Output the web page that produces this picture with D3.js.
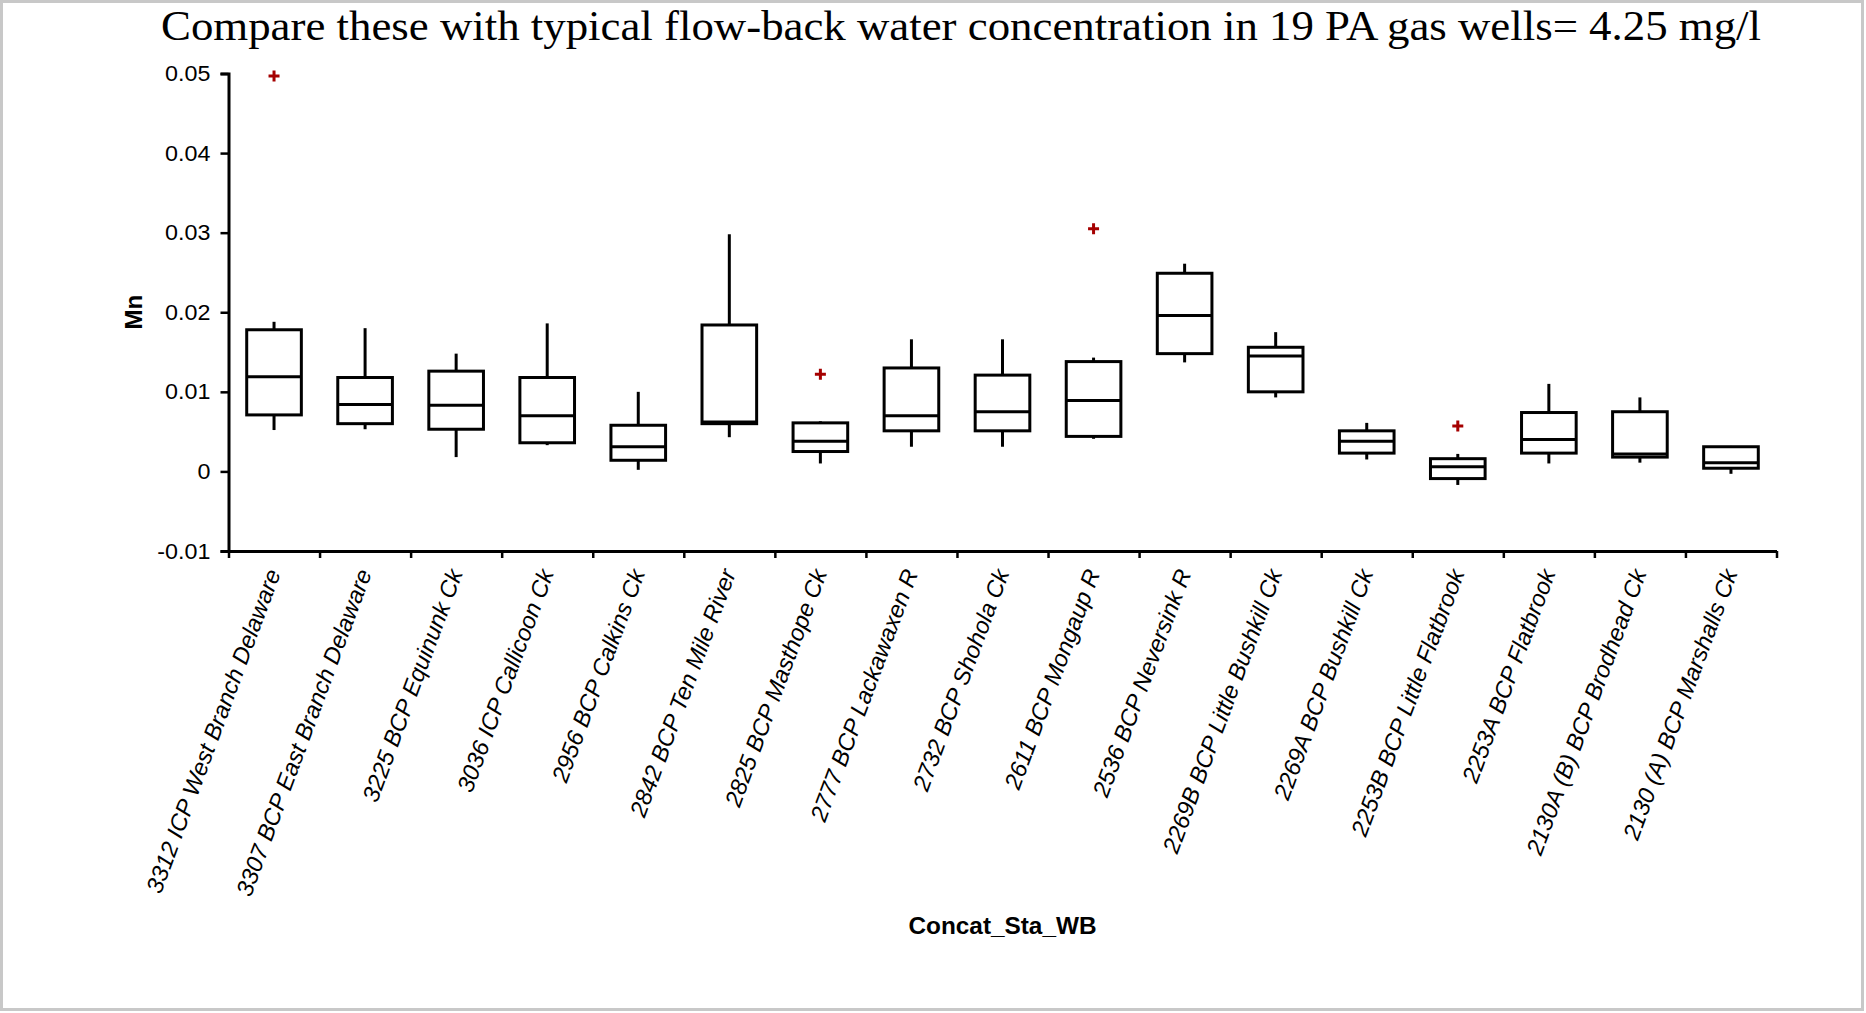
<!DOCTYPE html>
<html>
<head>
<meta charset="utf-8">
<script src="https://cdn.jsdelivr.net/npm/d3@7"></script>
<style>
  body { margin: 0; background: #fff; }
  svg { display: block; }
</style>
</head>
<body>
<script>
// station names (x categories)
var stations = [
  "3312 ICP West Branch Delaware", "3307 BCP East Branch Delaware", "3225 BCP Equinunk Ck",
  "3036 ICP Callicoon Ck", "2956 BCP Calkins Ck", "2842 BCP Ten Mile River",
  "2825 BCP Masthope Ck", "2777 BCP Lackawaxen R", "2732 BCP Shohola Ck",
  "2611 BCP Mongaup R", "2536 BCP Neversink R", "2269B BCP Little Bushkill Ck",
  "2269A BCP Bushkill Ck", "2253B BCP Little Flatbrook", "2253A BCP Flatbrook",
  "2130A (B) BCP Brodhead Ck", "2130 (A) BCP Marshalls Ck"
];

// box statistics, Mn
var whiskerLow  = [0.0052, 0.0053, 0.0018, 0.0033, 0.0002, 0.0043, 0.0010, 0.0031, 0.0031, 0.0041, 0.0137, 0.0093, 0.0015, -0.0017, 0.0010, 0.0011, -0.0003];
var q1          = [0.0071, 0.0060, 0.0053, 0.0036, 0.0014, 0.0060, 0.0025, 0.0051, 0.0051, 0.0044, 0.0148, 0.0100, 0.0023, -0.0009, 0.0023, 0.0018, 0.0004];
var median      = [0.0119, 0.0084, 0.0083, 0.0070, 0.0031, 0.0062, 0.0038, 0.0070, 0.0075, 0.0089, 0.0196, 0.0145, 0.0038, 0.0006, 0.0040, 0.0022, 0.0011];
var q3          = [0.0178, 0.0118, 0.0126, 0.0118, 0.0058, 0.0184, 0.0061, 0.0130, 0.0121, 0.0138, 0.0249, 0.0156, 0.0051, 0.0016, 0.0074, 0.0075, 0.0031];
var whiskerHigh = [0.0188, 0.0180, 0.0148, 0.0186, 0.0100, 0.0298, 0.0063, 0.0166, 0.0166, 0.0143, 0.0261, 0.0175, 0.0061, 0.0022, 0.0110, 0.0093, 0.0032];

// outliers
var outlierStation = [0, 6, 9, 13];
var outlierValue   = [0.0497, 0.0122, 0.0305, 0.0057];

var yTicks = [-0.01, 0, 0.01, 0.02, 0.03, 0.04, 0.05];

var titleText = "Compare these with typical flow-back water concentration in 19 PA gas wells= 4.25 mg/l";

var W = 1866, H = 1013;
var margin = { top: 73.5, left: 228.5, right: 89.5, bottom: 462 };
var width = W - margin.left - margin.right,
    height = H - margin.top - margin.bottom;

var svg = d3.select("body").append("svg")
  .attr("width", W)
  .attr("height", H);

svg.append("rect")
  .attr("x", 1.5).attr("y", 1.5)
  .attr("width", W - 5).attr("height", H - 5)
  .attr("fill", "#fff")
  .attr("stroke", "#c8c8c8")
  .attr("stroke-width", 3);

svg.append("text")
  .attr("x", 161)
  .attr("y", 40)
  .attr("textLength", 1600)
  .attr("lengthAdjust", "spacingAndGlyphs")
  .style("font-family", "'Liberation Serif', 'DejaVu Serif', serif")
  .style("font-size", "43px")
  .style("fill", "#000")
  .text(titleText);

var g = svg.append("g")
  .attr("transform", "translate(" + margin.left + "," + margin.top + ")");

var x = d3.scaleBand().domain(stations).range([0, width]).paddingInner(0).paddingOuter(0);
var xEdge = d3.scaleLinear().domain([0, stations.length]).range([0, width]);
var y = d3.scaleLinear().domain([-0.01, 0.05]).range([height, 0]);

// y axis
var yAxis = g.append("g")
  .call(d3.axisLeft(y).tickValues(yTicks).tickSize(8).tickPadding(9)
    .tickFormat(function (d) { return String(d); }));
yAxis.select(".domain").attr("stroke-width", 3);
yAxis.selectAll(".tick line").attr("stroke-width", 2.5);
yAxis.selectAll(".tick text")
  .style("font-family", "'Liberation Sans', Arial, sans-serif")
  .style("font-size", "22px")
  .attr("transform", "scale(1.06,1)");

// x axis (ticks on band edges)
var xAxis = g.append("g")
  .attr("transform", "translate(0," + height + ")")
  .call(d3.axisBottom(xEdge).tickValues(d3.range(stations.length + 1)).tickSize(7)
    .tickSizeOuter(0).tickFormat(""));
xAxis.select(".domain").attr("stroke-width", 3);
xAxis.selectAll(".tick line").attr("stroke-width", 2.5);

// category labels
g.selectAll(".xlab")
  .data(stations)
  .enter().append("text")
  .attr("class", "xlab")
  .attr("text-anchor", "end")
  .attr("transform", function (d) {
    return "translate(" + (x(d) + x.bandwidth() / 2 + 7) + "," + (height + 22) + ") rotate(-69.5)";
  })
  .style("font-family", "'Liberation Sans', Arial, sans-serif")
  .style("font-style", "italic")
  .style("font-size", "23.5px")
  .text(function (d) { return d; });

// axis titles
svg.append("text")
  .attr("text-anchor", "middle")
  .attr("transform", "translate(142," + (margin.top + height / 2) + ") rotate(-90)")
  .style("font-family", "'Liberation Sans', Arial, sans-serif")
  .style("font-weight", "bold")
  .style("font-size", "24px")
  .text("Mn");

svg.append("text")
  .attr("text-anchor", "middle")
  .attr("x", margin.left + width / 2)
  .attr("y", 934)
  .attr("textLength", 188)
  .attr("lengthAdjust", "spacingAndGlyphs")
  .style("font-family", "'Liberation Sans', Arial, sans-serif")
  .style("font-weight", "bold")
  .style("font-size", "24px")
  .text("Concat_Sta_WB");

// boxes
var boxW = x.bandwidth() * 0.6;
var boxes = g.selectAll(".box")
  .data(stations)
  .enter().append("g")
  .attr("class", "box")
  .attr("transform", function (d) { return "translate(" + (x(d) + x.bandwidth() / 2) + ",0)"; });

boxes.append("line")
  .attr("x1", 0).attr("x2", 0)
  .attr("y1", function (d, i) { return y(whiskerHigh[i]); })
  .attr("y2", function (d, i) { return y(q3[i]); })
  .attr("stroke", "#000").attr("stroke-width", 3);

boxes.append("line")
  .attr("x1", 0).attr("x2", 0)
  .attr("y1", function (d, i) { return y(q1[i]); })
  .attr("y2", function (d, i) { return y(whiskerLow[i]); })
  .attr("stroke", "#000").attr("stroke-width", 3);

boxes.append("rect")
  .attr("x", -boxW / 2)
  .attr("width", boxW)
  .attr("y", function (d, i) { return y(q3[i]); })
  .attr("height", function (d, i) { return y(q1[i]) - y(q3[i]); })
  .attr("fill", "none")
  .attr("stroke", "#000").attr("stroke-width", 3);

boxes.append("line")
  .attr("x1", -boxW / 2).attr("x2", boxW / 2)
  .attr("y1", function (d, i) { return y(median[i]); })
  .attr("y2", function (d, i) { return y(median[i]); })
  .attr("stroke", "#000").attr("stroke-width", 3);

// outliers (red plus)
g.selectAll(".out")
  .data(outlierStation)
  .enter().append("path")
  .attr("class", "out")
  .attr("d", function (s, i) {
    var cx = x(stations[s]) + x.bandwidth() / 2, cy = y(outlierValue[i]);
    return "M" + (cx - 5.5) + "," + cy + "H" + (cx + 5.5) + "M" + cx + "," + (cy - 5.5) + "V" + (cy + 5.5);
  })
  .attr("stroke", "#a50000")
  .attr("stroke-width", 3);
</script>
</body>
</html>
